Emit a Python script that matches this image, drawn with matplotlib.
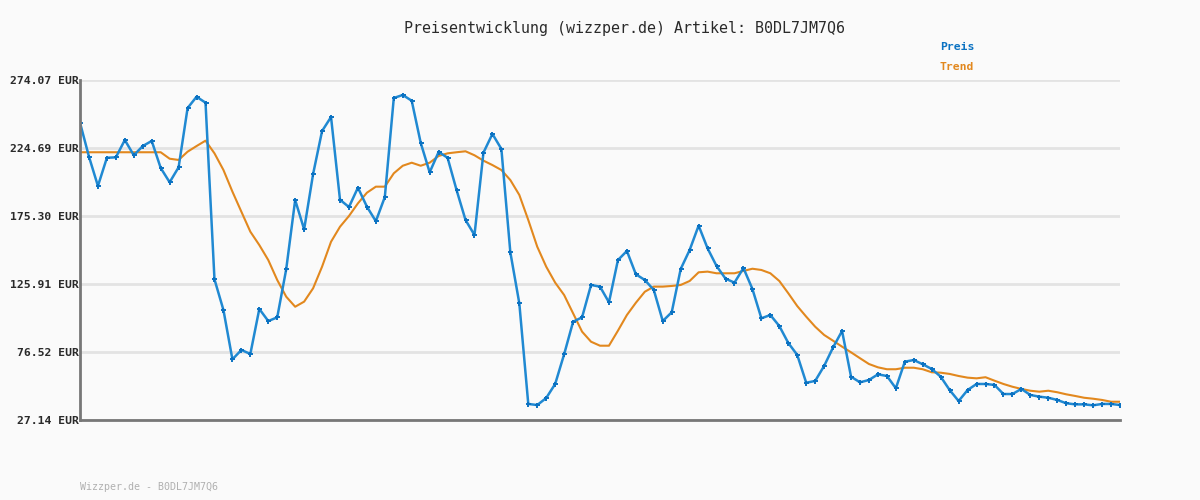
import matplotlib
matplotlib.use("Agg")
import matplotlib.pyplot as plt

title = "Preisentwicklung (wizzper.de) Artikel: B0DL7JM7Q6"
footer = "Wizzper.de - B0DL7JM7Q6"
series_names = ["Preis", "Trend"]
ytick_values = [27.14, 76.52, 125.91, 175.30, 224.69, 274.07]
ytick_labels = ["27.14 EUR", "76.52 EUR", "125.91 EUR", "175.30 EUR", "224.69 EUR", "274.07 EUR"]

preis = [
    243.1, 218.4, 197.1, 217.6, 217.9, 230.5, 219.4, 226.1, 229.8, 210.2,
    199.8, 210.7, 253.7, 261.9, 257.6, 129.3, 107.0, 71.2, 78.0, 75.1,
    107.8, 99.0, 101.7, 136.6, 186.9, 165.6, 205.8, 237.0, 247.2, 187.1,
    181.8, 195.9, 182.1, 171.5, 189.1, 261.0, 263.2, 259.0, 228.5, 207.0,
    221.8, 217.6, 194.2, 172.4, 161.5, 221.3, 234.9, 224.0, 148.9, 111.9,
    38.8, 38.0, 43.1, 53.3, 74.9, 98.5, 101.7, 125.2, 124.0, 112.6,
    143.3, 149.9, 133.0, 128.8, 121.6, 99.0, 105.4, 136.8, 150.6, 168.3,
    151.8, 139.0, 129.8, 126.9, 137.5, 122.3, 101.0, 103.4, 95.4, 83.1,
    74.4, 54.2, 55.5, 66.4, 79.9, 91.8, 58.6, 54.5, 56.2, 60.3,
    59.1, 50.2, 69.5, 70.7, 67.6, 64.2, 58.6, 48.9, 40.9, 48.9,
    53.3, 53.3, 52.6, 46.0, 46.0, 49.7, 45.3, 44.1, 43.3, 41.7,
    39.3, 38.5, 38.5, 37.8, 38.8, 38.8, 38.0,
]

trend = [
    221.6, 221.6, 221.6, 221.6, 221.6, 221.6, 221.6, 221.6, 221.6, 221.6,
    216.9, 216.0, 222.0, 226.1, 230.0, 220.8, 208.7, 193.0, 178.4, 163.9,
    154.2, 143.3, 128.8, 116.7, 109.4, 113.1, 122.8, 138.5, 156.6, 167.5,
    175.3, 184.5, 192.2, 196.6, 196.6, 206.3, 211.8, 214.0, 211.8, 214.0,
    218.9, 220.8, 221.6, 222.3, 219.4, 215.5, 212.3, 208.7, 201.4, 190.6,
    172.4, 153.0, 138.5, 126.9, 117.9, 104.6, 91.3, 84.0, 81.1, 81.1,
    92.0, 103.4, 112.3, 120.3, 124.0, 124.0, 124.5, 125.2, 128.1, 134.4,
    134.9, 133.7, 133.7, 133.7, 135.4, 137.0, 136.1, 133.7, 128.1, 119.2,
    109.9, 102.2, 94.9, 88.9, 84.7, 80.4, 76.3, 72.0, 67.8, 65.4,
    64.0, 64.0, 65.1, 65.1, 64.0, 61.8, 61.5, 60.6, 59.1, 57.9,
    57.4, 58.2, 55.7, 53.3, 51.3, 49.7, 48.4, 47.7, 48.4, 47.3,
    45.8, 44.6, 43.3, 42.6, 41.7, 40.4, 40.4,
]

bg = "#fafafa"
blue = "#2089d2"
blue_dark = "#0b72c2"
orange = "#e2881e"
mono = ["DejaVu Sans Mono"]

fig = plt.figure(figsize=(12, 5), dpi=100, facecolor=bg)
ax = fig.add_axes([80 / 1200, 80 / 500, 1040 / 1200, 340 / 500], facecolor=bg)

x = list(range(len(preis)))
ax.plot(x, trend, color=orange, lw=1.5, zorder=3, solid_joinstyle="round")
ax.plot(x, preis, color=blue, lw=1.8, zorder=4, marker="+", markersize=3.6,
        markeredgewidth=1.4, markeredgecolor=blue_dark, solid_joinstyle="round")

ax.set_xlim(0, len(preis) - 1)
ax.set_ylim(ytick_values[0], ytick_values[-1])
ax.set_yticks(ytick_values)
ax.set_yticklabels(ytick_labels, family=mono, fontsize=8.2, fontweight="bold", color="#2a2a2a")
ax.set_xticks([])
ax.tick_params(axis="y", length=0, pad=1)
ax.grid(axis="y", color="#e3e3e3", lw=2.0, zorder=0)
ax.set_axisbelow(True)
for s in ["top", "right"]:
    ax.spines[s].set_visible(False)
for s in ["left", "bottom"]:
    ax.spines[s].set_color("#777777")
    ax.spines[s].set_linewidth(2.0)
ax.spines["left"].set_zorder(5)
ax.spines["bottom"].set_zorder(5)

fig.text(624 / 1200, 1 - 28 / 500, title, family=mono, fontsize=10.85,
         color="#2a2a2a", ha="center", va="center")
fig.text(940 / 1200, 1 - 47 / 500, series_names[0], family=mono, fontsize=8.2,
         fontweight="bold", color=blue_dark, ha="left", va="center")
fig.text(940 / 1200, 1 - 67 / 500, series_names[1], family=mono, fontsize=8.2,
         fontweight="bold", color=orange, ha="left", va="center")
fig.text(80 / 1200, 1 - 487 / 500, footer, family=mono, fontsize=7.2,
         color="#b0b0b0", ha="left", va="center")

fig.savefig("out.png", dpi=100, facecolor=bg)
